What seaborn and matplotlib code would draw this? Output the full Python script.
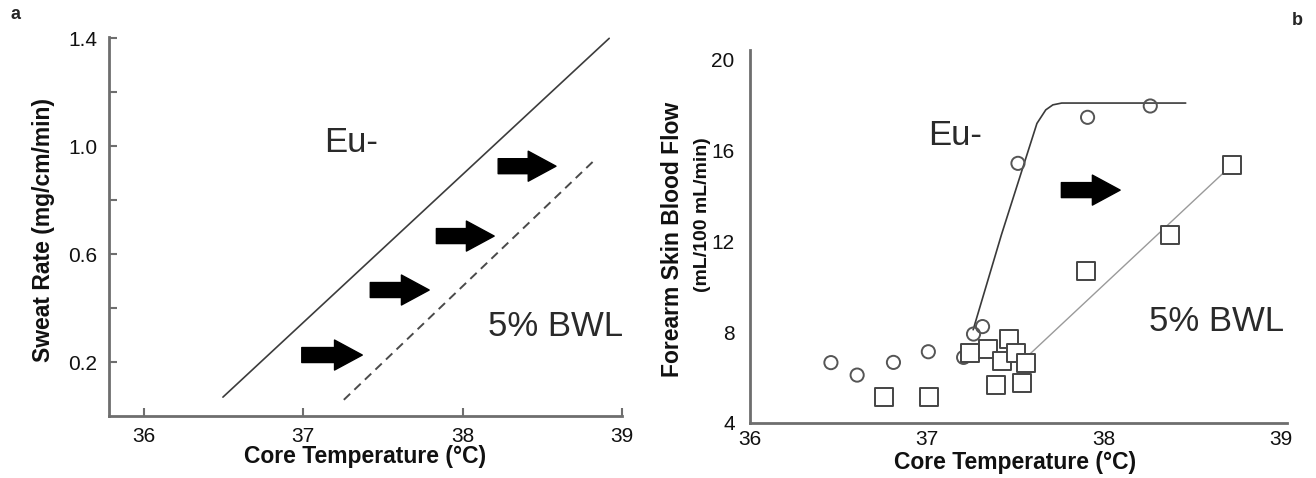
import numpy as np
import matplotlib
matplotlib.use("Agg")
import matplotlib.pyplot as plt
from matplotlib.patches import FancyArrowPatch, ArrowStyle
from matplotlib.ticker import FixedLocator
import seaborn as sns

# ── data: panel a (sweat rate lines) ─────────────────────────────────────────
eu_a_x = [36.495, 38.92]
eu_a_y = [0.07, 1.40]
bwl_a_x = [37.254, 38.827]
bwl_a_y = [0.06, 0.948]
arrows_a_x0 = [36.99, 37.42, 37.835, 38.223]
arrows_a_x1 = [37.37, 37.79, 38.198, 38.586]
arrows_a_y = [0.226, 0.467, 0.667, 0.926]

# ── data: panel b (skin blood flow) ─────────────────────────────────────────
eu_pts_x = [36.457, 36.605, 36.81, 37.007, 37.206, 37.262, 37.313, 37.513, 37.906, 38.26]
eu_pts_y = [6.65, 6.10, 6.66, 7.13, 6.88, 7.91, 8.24, 15.44, 17.47, 17.97]
bwl_pts_x = [36.757, 37.013, 37.243, 37.344, 37.462, 37.425, 37.50, 37.556,
             37.388, 37.538, 37.899, 38.371, 38.721]
bwl_pts_y = [5.15, 5.15, 7.09, 7.24, 7.68, 6.74, 7.09, 6.62,
             5.66, 5.76, 10.71, 12.28, 15.37]
eu_fit_x = [37.26, 37.42, 37.62, 37.67, 37.71, 37.76, 38.46]
eu_fit_y = [8.10, 12.30, 17.20, 17.80, 18.02, 18.10, 18.10]
bwl_fit_x = [37.575, 38.721]
bwl_fit_y = [6.99, 15.37]
arrows_b_x0 = [37.758]
arrows_b_x1 = [38.09]
arrows_b_y = [14.26]

# ── style ────────────────────────────────────────────────────────────────────
sns.set_style("white")
plt.rcParams["font.family"] = ["Liberation Sans", "DejaVu Sans"]
plt.rcParams["axes.linewidth"] = 2.0

SPINE = "#6e6e6e"
TXT = "#111111"

fig = plt.figure(figsize=(13.16, 4.78), dpi=100)
ax1 = fig.add_axes([0.0831, 0.1297, 0.3895, 0.7935])
ax2 = fig.add_axes([0.5699, 0.1157, 0.4078, 0.7797])


def block_arrows(ax, x0s, x1s, ys):
    style = ArrowStyle.Simple(head_length=20, head_width=21.6, tail_width=10.8)
    for x0, x1, y in zip(x0s, x1s, ys):
        ax.add_patch(FancyArrowPatch((x0, y), (x1, y), arrowstyle=style,
                                     mutation_scale=1, color="black",
                                     shrinkA=0, shrinkB=0, zorder=4))


def style_axes(ax):
    for side in ["top", "right"]:
        ax.spines[side].set_visible(False)
    for side in ["left", "bottom"]:
        ax.spines[side].set_color(SPINE)
        ax.spines[side].set_linewidth(2.0)


# ── a. sweat rate ────────────────────────────────────────────────────────────
sns.lineplot(x=eu_a_x, y=eu_a_y, ax=ax1, color="#3c3c3c", linewidth=1.2,
             estimator=None, sort=False)
sns.lineplot(x=bwl_a_x, y=bwl_a_y, ax=ax1, color="#4a4a4a", linewidth=1.4,
             linestyle=(0, (4.5, 3)), estimator=None, sort=False)
block_arrows(ax1, arrows_a_x0, arrows_a_x1, arrows_a_y)
ax1.text(37.13, 0.98, "Eu-", fontsize=25, color="#2a2a2a", va="baseline")
ax1.text(38.16, 0.297, "5% BWL", fontsize=25, color="#2a2a2a", va="baseline")

ax1.set_xlim(35.782, 39.0)
ax1.set_ylim(0.0, 1.406)
ax1.set_xticks([36, 37, 38, 39])
ax1.set_yticks([0.2, 0.6, 1.0, 1.4])
ax1.set_yticklabels(["0.2", "0.6", "1.0", "1.4"])
ax1.yaxis.set_minor_locator(FixedLocator([0.4, 0.8, 1.2]))
ax1.tick_params(axis="both", which="both", direction="in", length=6, width=1.5,
                color=SPINE, labelsize=15, labelcolor=TXT, bottom=True, left=True)
ax1.tick_params(axis="x", pad=8)
ax1.tick_params(axis="y", pad=8.5)
style_axes(ax1)
ax1.set_xlabel("Core Temperature (°C)", fontsize=16.5, fontweight="bold", color=TXT)
ax1.xaxis.label.set_va("center")
ax1.xaxis.set_label_coords(0.498, -0.108)
ax1.set_ylabel("Sweat Rate (mg/cm/min)", fontsize=16.5, fontweight="bold", color=TXT)
ax1.yaxis.label.set_va("center")
ax1.yaxis.set_label_coords(-0.129, 0.49)

# ── b. forearm skin blood flow ───────────────────────────────────────────────
sns.lineplot(x=eu_fit_x, y=eu_fit_y, ax=ax2, color="#3a3a3a", linewidth=1.2,
             estimator=None, sort=False)
sns.lineplot(x=bwl_fit_x, y=bwl_fit_y, ax=ax2, color="#9a9a9a", linewidth=1.0,
             estimator=None, sort=False)
sns.scatterplot(x=eu_pts_x, y=eu_pts_y, ax=ax2, marker="o", s=90,
                facecolors="none", edgecolors="#555555", linewidth=1.4, zorder=3)
sns.scatterplot(x=bwl_pts_x, y=bwl_pts_y, ax=ax2, marker="s", s=150,
                facecolors="white", edgecolors="#444444", linewidth=1.4, zorder=3)
block_arrows(ax2, arrows_b_x0, arrows_b_x1, arrows_b_y)
ax2.text(37.004, 16.25, "Eu-", fontsize=25, color="#2a2a2a", va="baseline")
ax2.text(38.25, 8.06, "5% BWL", fontsize=25, color="#2a2a2a", va="baseline")

ax2.set_xlim(36.0, 39.03)
ax2.set_ylim(4.0, 20.44)
ax2.set_xticks([36, 37, 38, 39])
ax2.set_yticks([4, 8, 12, 16, 20])
ax2.tick_params(axis="both", length=0, labelsize=15, labelcolor=TXT)
ax2.tick_params(axis="x", pad=5)
ax2.tick_params(axis="y", pad=11)
style_axes(ax2)
ax2.set_xlabel("Core Temperature (°C)", fontsize=16.5, fontweight="bold", color=TXT)
ax2.xaxis.label.set_va("center")
ax2.xaxis.set_label_coords(0.494, -0.108)
ax2.text(-0.145, 0.493, "Forearm Skin Blood Flow", transform=ax2.transAxes,
         rotation=90, ha="center", va="center", fontsize=16.5, fontweight="bold", color=TXT)
ax2.text(-0.089, 0.557, "(mL/100 mL/min)", transform=ax2.transAxes,
         rotation=90, ha="center", va="center", fontsize=14, fontweight="bold", color=TXT)

# panel letters
fig.text(0.0114, 0.969, "a", fontsize=13, fontweight="bold", ha="center", va="center")
fig.text(0.9856, 0.958, "b", fontsize=13, fontweight="bold", ha="center", va="center")

fig.savefig("out.png", dpi=100)
